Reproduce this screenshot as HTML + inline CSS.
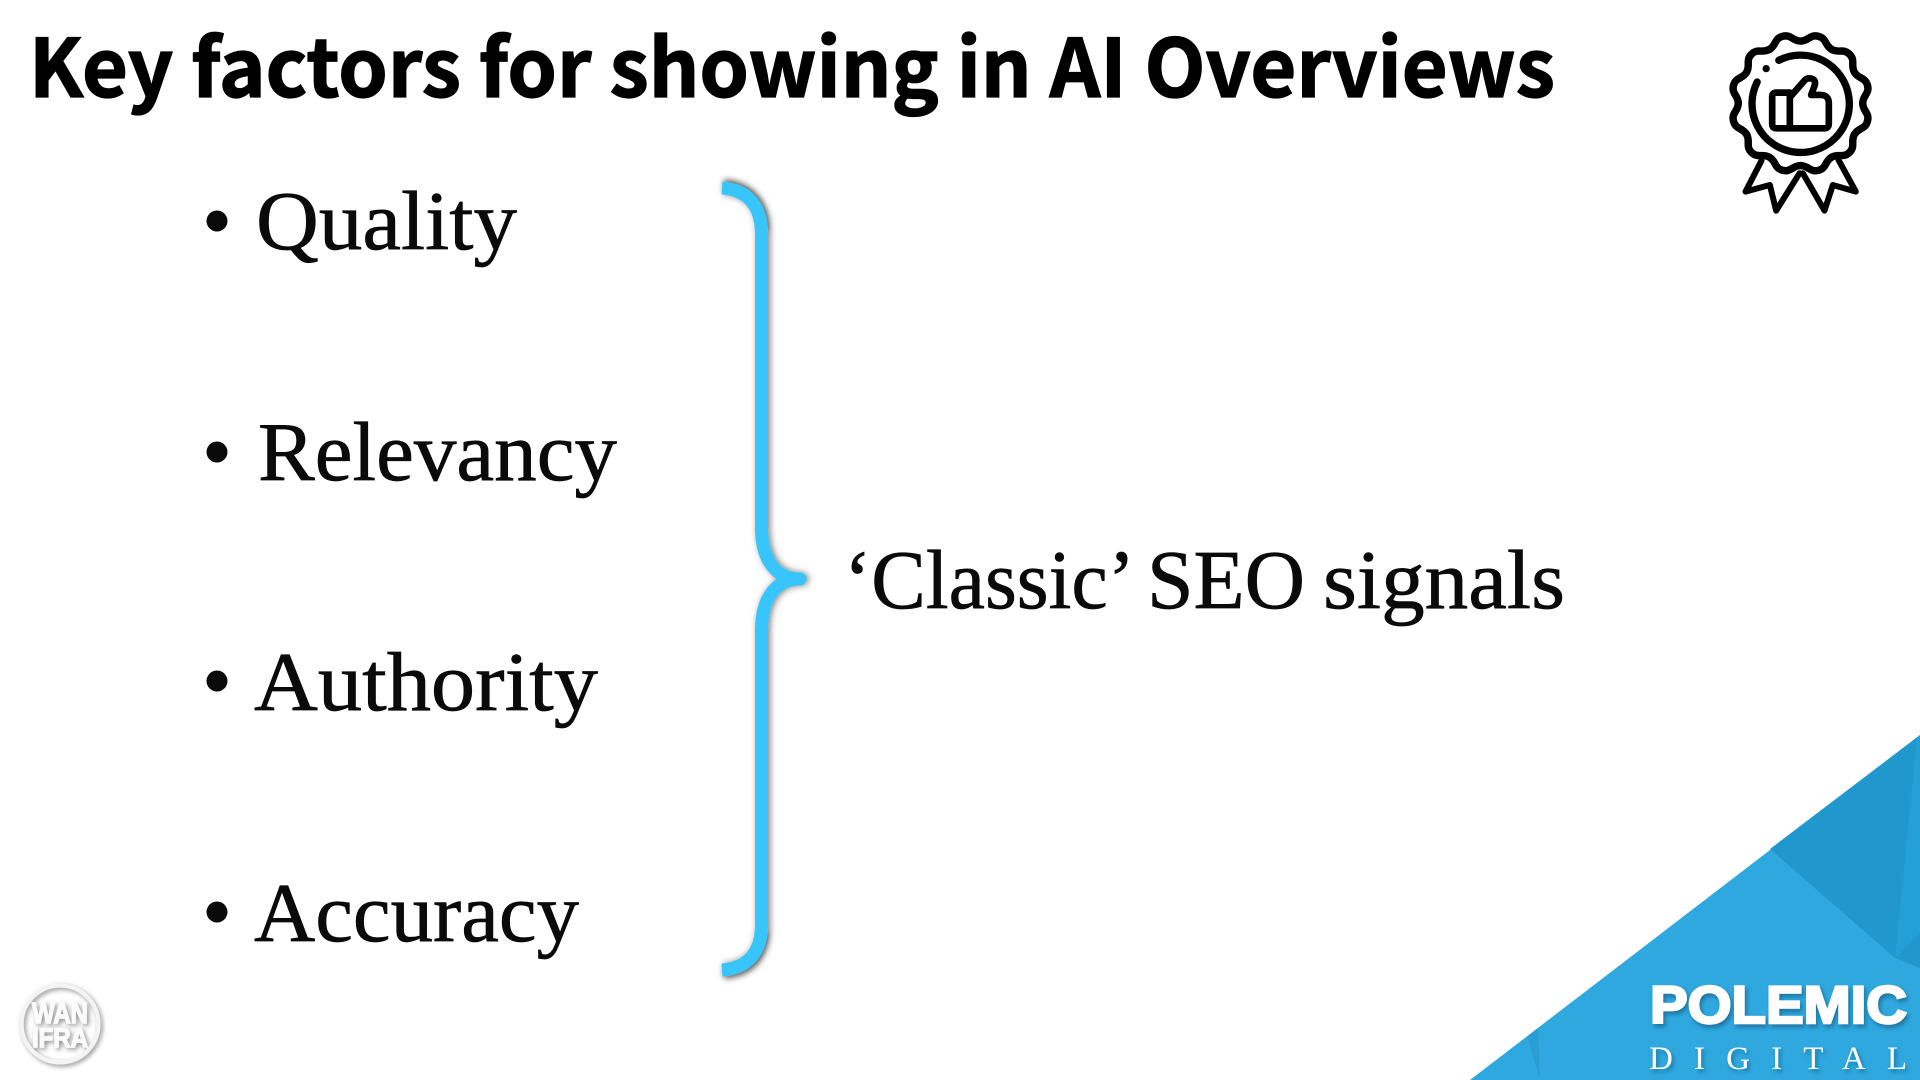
<!DOCTYPE html>
<html lang="en">
<head>
<meta charset="utf-8">
<title>Key factors for showing in AI Overviews</title>
<style>
html,body{margin:0;padding:0;background:#fff;width:1920px;height:1080px;overflow:hidden}
svg{display:block}
.b{font-family:"Liberation Serif",serif;font-size:84px;fill:#0a0a0a;stroke:#0a0a0a;stroke-width:.7px}
</style>
</head>
<body>
<svg width="1920" height="1080" viewBox="0 0 1920 1080" xmlns="http://www.w3.org/2000/svg">
<defs>
<filter id="sh" x="-30%" y="-5%" width="160%" height="110%">
<feDropShadow dx="2" dy="0" stdDeviation="3.5" flood-color="#000" flood-opacity="0.5"/>
</filter>
<filter id="bl" x="-50%" y="-50%" width="200%" height="200%">
<feGaussianBlur stdDeviation="3"/>
</filter>
<filter id="ts" x="-10%" y="-20%" width="120%" height="150%">
<feDropShadow dx="2" dy="3" stdDeviation="2" flood-color="#0b4f75" flood-opacity="0.6"/>
</filter>
<filter id="ws" x="-30%" y="-30%" width="160%" height="160%">
<feDropShadow dx="2" dy="2" stdDeviation="2.5" flood-color="#000" flood-opacity="0.45"/>
</filter>
<path id="w" d="M0,-184 C24,-184 27.9,-204.7 53.06,-198 C78.2,-191.3 71.2,-171.35 92,-159.35"/>
</defs>

<rect width="1920" height="1080" fill="#fff"/>

<text x="29" y="97" font-family="'Noto Sans CJK JP','Liberation Sans',sans-serif" font-weight="700" font-size="80" fill="#000" stroke="#000" stroke-width="1.3" textLength="1526" lengthAdjust="spacingAndGlyphs">Key factors for showing in AI Overviews</text>

<circle cx="217" cy="221" r="10.5" fill="#0a0a0a"/>
<circle cx="217" cy="452" r="10.5" fill="#0a0a0a"/>
<circle cx="217" cy="681" r="10.5" fill="#0a0a0a"/>
<circle cx="217" cy="912" r="10.5" fill="#0a0a0a"/>
<text class="b" x="256" y="249" textLength="261" lengthAdjust="spacingAndGlyphs">Quality</text>
<text class="b" x="258" y="480" textLength="359" lengthAdjust="spacingAndGlyphs">Relevancy</text>
<text class="b" x="254" y="710" textLength="344" lengthAdjust="spacingAndGlyphs">Authority</text>
<text class="b" x="254" y="941" textLength="325" lengthAdjust="spacingAndGlyphs">Accuracy</text>
<text class="b" x="844" y="608" textLength="291" lengthAdjust="spacingAndGlyphs">‘Classic’</text>
<text class="b" x="1147" y="608" textLength="158" lengthAdjust="spacingAndGlyphs">SEO</text>
<text class="b" x="1323" y="608" textLength="242" lengthAdjust="spacingAndGlyphs">signals</text>

<path d="M724,183 C750,185 764,202 765,230" fill="none" stroke="#555" stroke-opacity=".6" stroke-width="8" filter="url(#bl)"/>
<path d="M724,975 C750,973 762,960 765,932" fill="none" stroke="#555" stroke-opacity=".6" stroke-width="8" filter="url(#bl)"/>
<path d="M722,188 C748,190 761.5,206 761.5,234 L761.5,528 C761.5,560 776,579 800,579 C776,579 761.5,598 761.5,630 L761.5,925 C761.5,952 748,968 722,970" fill="none" stroke="#37c5fb" stroke-width="13" stroke-linejoin="round" filter="url(#sh)"/>
<circle cx="800" cy="579" r="6.5" fill="#37c5fb"/>

<g transform="translate(1800.5,103.3) scale(0.3333)" fill="none" stroke="#000" stroke-width="22" stroke-linecap="round" stroke-linejoin="round">
<g transform="scale(1.015)">
<use href="#w"/>
<use href="#w" transform="rotate(30)"/>
<use href="#w" transform="rotate(60)"/>
<use href="#w" transform="rotate(90)"/>
<use href="#w" transform="rotate(120)"/>
<use href="#w" transform="rotate(150)"/>
<use href="#w" transform="rotate(180)"/>
<use href="#w" transform="rotate(210)"/>
<use href="#w" transform="rotate(240)"/>
<use href="#w" transform="rotate(270)"/>
<use href="#w" transform="rotate(300)"/>
<use href="#w" transform="rotate(330)"/>
</g>
<path d="M-65,-129 A146,146 0 1 1 -130,-64"/>
<circle cx="-103" cy="-104" r="11" fill="#000" stroke="none"/>
<path d="M-32,75 L-32,-32 L-72,-32 Q-85,-32 -85,-20 L-85,62 Q-85,75 -72,75 L-32,75 L72,75 Q85,75 85,60 L85,0 Q85,-25 60,-25 L32,-25 L43,-55 Q47,-75 25,-75 Q17,-75 10,-66 L-32,-18" stroke-width="20"/>
<path d="M-117,172 L-165,265 L-92,245 L-73,322 L-3,210" stroke-width="18"/>
<path d="M7,210 L72,322 L97,245 L166,265 L114,170" stroke-width="18"/>
</g>

<polygon points="1470,1080 1920,735 1920,1080" fill="#2fa8df"/>
<polygon points="1770,849 1920,735 1920,933 1895,958" fill="#2097cd"/>
<polygon points="1895,958 1917,738 1920,735 1920,933" fill="#25a0d7"/>
<polygon points="1895,958 1920,933 1920,968" fill="#2097cd"/>
<polygon points="1527,1037 1538,1028 1540,1080" fill="#2a9dd3"/>

<text x="1650" y="1023" font-family="'Liberation Sans',sans-serif" font-weight="700" font-size="53" fill="#fff" stroke="#fff" stroke-width="2.4" textLength="257" lengthAdjust="spacingAndGlyphs" filter="url(#ts)">POLEMIC</text>
<text x="1649" y="1069" font-family="'Liberation Serif',serif" font-size="33" fill="#fff" textLength="258" filter="url(#ts)">DIGITAL</text>

<g filter="url(#ws)">
<circle cx="60" cy="1024" r="38.5" fill="none" stroke="#f4f4f4" stroke-width="4"/>
<text x="60" y="1023" text-anchor="middle" font-family="'Liberation Sans',sans-serif" font-weight="700" font-size="29" fill="#fbfbfb" stroke="#fbfbfb" stroke-width="1.2" textLength="56" lengthAdjust="spacingAndGlyphs">WAN</text>
<text x="60" y="1047" text-anchor="middle" font-family="'Liberation Sans',sans-serif" font-weight="700" font-size="27" fill="#fbfbfb" stroke="#fbfbfb" stroke-width="1.2" textLength="56" lengthAdjust="spacingAndGlyphs">IFRA</text>
</g>
</svg>
</body>
</html>
